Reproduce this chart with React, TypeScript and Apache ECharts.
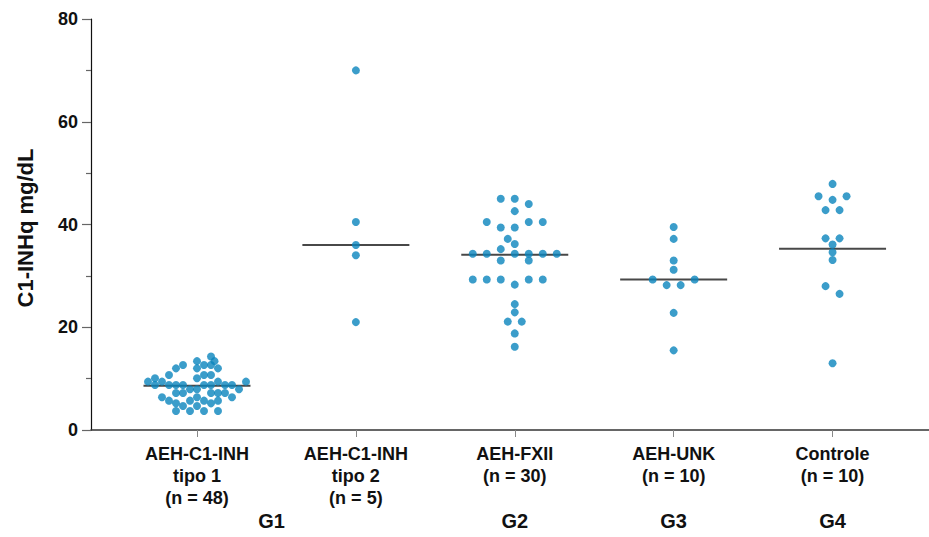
import React, { useEffect, useRef } from "react";
import * as echarts from "echarts";

const categories = [
  "AEH-C1-INH\ntipo 1\n(n = 48)",
  "AEH-C1-INH\ntipo 2\n(n = 5)",
  "AEH-FXII\n(n = 30)",
  "AEH-UNK\n(n = 10)",
  "Controle\n(n = 10)",
];
const groupLabels = ["G1", "G2", "G3", "G4"];
const groupLabelPos = [0.47, 2, 3, 4];
const yTicks = [0, 20, 40, 60, 80];
const medians = [8.6, 36.0, 34.1, 29.3, 35.3];

// swarm slot (horizontal dodge position, in dot half-widths) and value of each dot
const g1Values = [
  14.3, 13.4, 13.4, 12.65, 12.65, 12.65, 12.0, 12.0, 12.0, 10.7, 10.7, 10.7,
  10.06, 10.06, 9.41, 9.41, 9.41, 9.41, 8.76, 8.76, 8.76, 8.76, 8.76, 8.76,
  8.76, 8.76, 7.92, 7.92, 7.92, 7.2, 7.2, 7.2, 7.2, 7.2, 6.36, 6.36, 6.36, 5.71,
  5.71, 5.71, 5.71, 5.19, 5.19, 4.67, 4.67, 3.7, 3.7, 3.7, 3.7,
];
const g1Slots = [
  2, 0, 2.5, -2, 1, 2, -3, 0, 3, -4, 1, 2, -6, 0, -7, -5, 3, 7, -6, -4, -3, -2,
  1, 2, 4, 5, -1, 0, 6, -3, -2, 2, 3, 4, -5, 0, 5, -4, -1, 1, 3, -3, 2, -2, 0,
  -3, -1, 1, 3,
];
const g2Values = [70, 40.5, 36, 34, 21];
const g2Slots = [0, 0, 0, 0, 0];
const g3Values = [
  45, 45, 44, 42.6, 40.5, 40.5, 40.5, 39.4, 39.4, 37.2, 36.2, 35.2, 34.3, 34.3,
  34.3, 34.3, 34.3, 34.3, 33.0, 33.0, 29.3, 29.3, 29.3, 29.3, 29.3, 28.3, 24.5,
  22.9, 21.1, 21.1, 18.8, 16.2,
];
const g3Slots = [
  -2, 0, 2, 0, -4, 2, 4, -2, 0, -1, 0, -2, -6, -4, 0, 2, 4, 6, -2, 2, -6, -4, -2,
  2, 4, 0, 0, 0, -1, 1, 0, 0,
];
const g4Values = [39.5, 37.2, 33.0, 31.2, 29.3, 29.3, 28.2, 28.2, 22.8, 15.5];
const g4Slots = [0, 0, 0, 0, -3, 3, -1, 1, 0, 0];
const g5Values = [47.9, 45.5, 45.5, 44.8, 42.8, 42.8, 37.3, 37.3, 36.1, 34.6, 33.1, 28.0, 26.5, 13.0];
const g5Slots = [0, -2, 2, 0, -1, 1, -1, 1, 0, 0, 0, -1, 1, 0];

const groupValues = [g1Values, g2Values, g3Values, g4Values, g5Values];
const groupSlots = [g1Slots, g2Slots, g3Slots, g4Slots, g5Slots];

const SLOT = 0.04405;
const FONT = '"Liberation Sans", Arial, Helvetica, sans-serif';
const DOT = "#0a84bd";

export default function App() {
  const ref = useRef<HTMLDivElement>(null);
  useEffect(() => {
    if (!ref.current) return;
    const chart = echarts.init(ref.current, undefined, { renderer: "svg" });
    const dots: number[][] = [];
    groupValues.forEach((vals, g) => {
      vals.forEach((v, i) => dots.push([g + groupSlots[g][i] * SLOT, v]));
    });
    const medianData = medians.map((m, g) => [g, m]);
    const xMin = -0.667;
    const xMax = 4.607;
    chart.setOption({
      animation: false,
      grid: { left: 91, right: 0, top: 19, bottom: 107, containLabel: false },
      xAxis: [
        {
          type: "value",
          min: xMin,
          max: xMax,
          position: "bottom",
          splitLine: { show: false },
          axisLine: { show: true, onZero: false, lineStyle: { color: "#333", width: 1.5 } },
          axisTick: {
            show: true,
            customValues: [0, 1, 2, 3, 4],
            length: 7,
            lineStyle: { color: "#888", width: 1 },
          },
          axisLabel: {
            show: true,
            customValues: [0, 1, 2, 3, 4],
            formatter: (v: number) => categories[Math.round(v)] ?? "",
            fontSize: 18,
            fontWeight: "bold",
            fontFamily: FONT,
            color: "#111",
            lineHeight: 22,
            margin: 13,
          },
        },
        {
          type: "value",
          min: xMin,
          max: xMax,
          position: "bottom",
          splitLine: { show: false },
          axisLine: { show: false, onZero: false },
          axisTick: { show: false },
          axisLabel: {
            show: true,
            customValues: groupLabelPos,
            formatter: (v: number) => {
              let best = 0;
              groupLabelPos.forEach((p, i) => {
                if (Math.abs(p - v) < Math.abs(groupLabelPos[best] - v)) best = i;
              });
              return groupLabels[best];
            },
            fontSize: 20,
            fontWeight: "bold",
            fontFamily: FONT,
            color: "#111",
            margin: 81,
          },
        },
      ],
      yAxis: {
        type: "value",
        min: 0,
        max: 80,
        interval: 20,
        splitLine: { show: false },
        axisLine: { show: true, onZero: false, lineStyle: { color: "#111", width: 1.2 } },
        axisTick: { show: true, length: 9, lineStyle: { color: "#666", width: 1.2 } },
        minorTick: { show: true, splitNumber: 2, length: 5, lineStyle: { color: "#666", width: 1.2 } },
        axisLabel: {
          fontSize: 18,
          fontWeight: "bold",
          fontFamily: FONT,
          color: "#111",
          margin: 13,
          formatter: (v: number) => (yTicks.includes(v) ? String(v) : ""),
        },
      },
      graphic: [
        {
          type: "text",
          x: 25,
          y: 228,
          rotation: Math.PI / 2,
          style: {
            text: "C1-INHq mg/dL",
            font: `bold 22px ${FONT}`,
            fill: "#111",
            align: "center",
            verticalAlign: "middle",
          },
        },
      ],
      series: [
        {
          type: "scatter",
          name: "median",
          data: medianData,
          symbol: "rect",
          symbolSize: [107, 2],
          itemStyle: { color: "#1a1a1a" },
          z: 2,
          silent: true,
        },
        {
          type: "scatter",
          name: "dots",
          data: dots,
          symbol: "circle",
          symbolSize: 8,
          itemStyle: { color: DOT },
          z: 3,
          silent: true,
        },
      ],
    });
    return () => chart.dispose();
  }, []);
  return (
    <div
      ref={ref}
      style={{ position: "fixed", left: 0, top: 0, width: 929, height: 537, background: "#fff" }}
    />
  );
}
